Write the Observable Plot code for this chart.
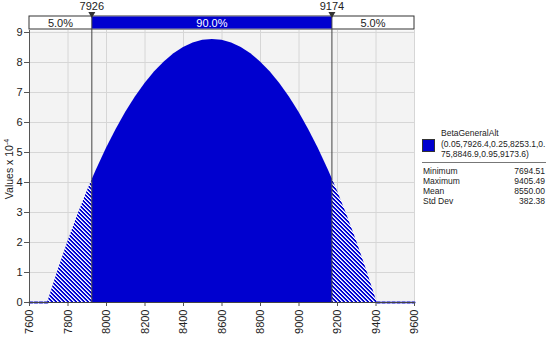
<!DOCTYPE html>
<html><head><meta charset="utf-8">
<script src="https://cdn.jsdelivr.net/npm/d3@7"></script>
<script src="https://cdn.jsdelivr.net/npm/@observablehq/plot@0.6"></script>
<style>
body{margin:0;background:#fff;}
#chart{position:relative;width:550px;height:339px;}
</style>
</head><body><div id="chart"></div>
<script>
// ---- data ----
const xValues = [7600, 7694.51, 7700, 7750, 7800, 7850, 7900, 7926.4, 7950,
  8000, 8050, 8100, 8150, 8200, 8250, 8300, 8350, 8400, 8450, 8500, 8550,
  8600, 8650, 8700, 8750, 8800, 8850, 8900, 8950, 9000, 9050, 9100, 9150,
  9173.6, 9200, 9250, 9300, 9350, 9400, 9405.49, 9600];
const density = [0, 0, 0.11, 1.10, 2.03, 2.90, 3.71, 4.11, 4.45,
  5.14, 5.77, 6.34, 6.85, 7.30, 7.69, 8.02, 8.29, 8.50, 8.65, 8.74, 8.77,
  8.74, 8.65, 8.50, 8.29, 8.02, 7.69, 7.30, 6.85, 6.34, 5.77, 5.14, 4.45,
  4.11, 3.71, 2.90, 2.03, 1.10, 0.11, 0, 0];
const cutPoints = [7926.4, 9173.6];
const cutLabels = ["7926", "9174"];
const bandLabels = ["5.0%", "90.0%", "5.0%"];
const xTicks = [7600, 7800, 8000, 8200, 8400, 8600, 8800, 9000, 9200, 9400, 9600];
const yTicks = [0, 1, 2, 3, 4, 5, 6, 7, 8, 9];
const seriesName = "BetaGeneralAlt";
const seriesParams = ["(0.05,7926.4,0.25,8253.1,0.", "75,8846.9,0.95,9173.6)"];
const statNames = ["Minimum", "Maximum", "Mean", "Std Dev"];
const statValues = ["7694.51", "9405.49", "8550.00", "382.38"];
const distMin = 7694.51, distMax = 9405.49;

// ---- build table ----
const rows = xValues.map((x, i) => ({x, v: density[i]}));
const [c1, c2] = cutPoints;
const leftTail = rows.filter(d => d.x >= distMin && d.x <= c1);
const middle = rows.filter(d => d.x >= c1 && d.x <= c2);
const rightTail = rows.filter(d => d.x >= c2 && d.x <= distMax);
const leftZero = rows.filter(d => d.x <= distMin);
const rightZero = rows.filter(d => d.x >= distMax);

const BLUE = "#0000cf";
const FONT = "Liberation Sans, Arial, sans-serif";

const chart = Plot.plot({
  width: 550, height: 339,
  marginLeft: 29, marginRight: 136, marginTop: 30, marginBottom: 37,
  style: {fontFamily: FONT, fontSize: "11px", color: "#222", background: "white", overflow: "visible"},
  x: {domain: [7600, 9600]},
  y: {domain: [0, 9.067]},
  marks: [
    Plot.frame({fill: "#f3f3f3", stroke: null}),
    Plot.gridX(xTicks, {stroke: "#d6d6d6", strokeOpacity: 1}),
    Plot.gridY(yTicks, {stroke: "#d6d6d6", strokeOpacity: 1}),
    Plot.areaY(leftTail, {x: "x", y: "v", fill: "url(#hatch)", curve: "linear"}),
    Plot.areaY(middle, {x: "x", y: "v", fill: BLUE, curve: "linear"}),
    Plot.areaY(rightTail, {x: "x", y: "v", fill: "url(#hatch)", curve: "linear"}),
    Plot.line(leftZero, {x: "x", y: "v", stroke: BLUE, strokeWidth: 2, strokeDasharray: "3,2"}),
    Plot.line(rightZero, {x: "x", y: "v", stroke: BLUE, strokeWidth: 2, strokeDasharray: "3,2"}),
    Plot.axisX(xTicks, {tickRotate: -90, tickSize: 4, tickPadding: 3, label: null, stroke: "#555", fill: "#222",
      tickFormat: d => String(d), fontSize: 11}),
    Plot.axisY(yTicks, {tickSize: 5, tickPadding: 2, label: null, stroke: "#555", fill: "#222", fontSize: 11}),
    Plot.ruleY([0], {stroke: "#444"}),
    Plot.ruleX([7600], {stroke: "#555"})
  ]
});
document.getElementById("chart").appendChild(chart);

const svg = d3.select(chart);
const xs = chart.scale("x").apply;
const ys = chart.scale("y").apply;

// hatch pattern (pixel diagonal stripes, ~half white)
const defs = svg.insert("defs", ":first-child");
const pat = defs.append("pattern").attr("id", "hatch").attr("patternUnits", "userSpaceOnUse")
  .attr("width", 4).attr("height", 4);
pat.append("rect").attr("width", 4).attr("height", 4).attr("fill", BLUE);
[[0, 0], [1, 1], [2, 2], [3, 3], [1, 0], [2, 1], [3, 2], [0, 3]].forEach(([px, py], i) =>
  pat.append("rect").attr("x", px).attr("y", py).attr("width", 1).attr("height", 1)
    .attr("fill", i < 4 ? "#ffffff" : "#aab0ff").attr("shape-rendering", "crispEdges"));

const g = svg.append("g");
const xL = xs(xTicks[0]), xR = xs(xTicks[xTicks.length - 1]);
// percentage band
g.append("rect").attr("x", xL).attr("y", 16).attr("width", xR - xL).attr("height", 13)
  .attr("fill", "white").attr("stroke", "#333").attr("stroke-width", 1);
g.append("rect").attr("x", xs(c1)).attr("y", 16.5).attr("width", xs(c2) - xs(c1)).attr("height", 12)
  .attr("fill", BLUE);
const bandCenters = [(xL + xs(c1)) / 2, (xs(c1) + xs(c2)) / 2, (xs(c2) + xR) / 2];
bandLabels.forEach((t, i) => {
  g.append("text").attr("x", bandCenters[i]).attr("y", 26.5).attr("text-anchor", "middle")
    .attr("font-family", FONT).attr("font-size", 11).attr("fill", i === 1 ? "white" : "#222").text(t);
});
// cut lines, triangles and labels
cutPoints.forEach((c, i) => {
  const px = xs(c);
  g.append("line").attr("x1", px).attr("x2", px).attr("y1", 13).attr("y2", ys(0))
    .attr("stroke", "#444").attr("stroke-width", 1);
  g.append("path").attr("d", `M${px - 3.5},12 L${px + 3.5},12 L${px},18 Z`).attr("fill", "#333");
  g.append("text").attr("x", px).attr("y", 10).attr("text-anchor", "middle")
    .attr("font-family", FONT).attr("font-size", 11).attr("fill", "#222").text(cutLabels[i]);
});
// y label
const yl = g.append("text").attr("transform", "translate(13,169) rotate(-90)")
  .attr("text-anchor", "middle").attr("font-family", FONT).attr("font-size", 10.5).attr("fill", "#222");
yl.append("tspan").text("Values x 10");
yl.append("tspan").attr("dy", -4).attr("font-size", 7).text("-4");

// legend
g.append("rect").attr("x", 422.5).attr("y", 139.5).attr("width", 12).attr("height", 12)
  .attr("fill", BLUE).attr("stroke", "#333").attr("stroke-width", 1);
const lt = (x, y, t, anchor) => g.append("text").attr("x", x).attr("y", y)
  .attr("text-anchor", anchor || "start").attr("font-family", FONT).attr("font-size", 8.5)
  .attr("fill", "#222").text(t);
lt(441, 136, seriesName);
lt(441, 146.5, seriesParams[0]);
lt(441, 157, seriesParams[1]);
g.append("line").attr("x1", 422).attr("x2", 546).attr("y1", 162.5).attr("y2", 162.5)
  .attr("stroke", "#777").attr("stroke-width", 1);
statNames.forEach((n, i) => {
  lt(423, 173.5 + i * 10, n);
  lt(545, 173.5 + i * 10, statValues[i], "end");
});
</script>
</body></html>
